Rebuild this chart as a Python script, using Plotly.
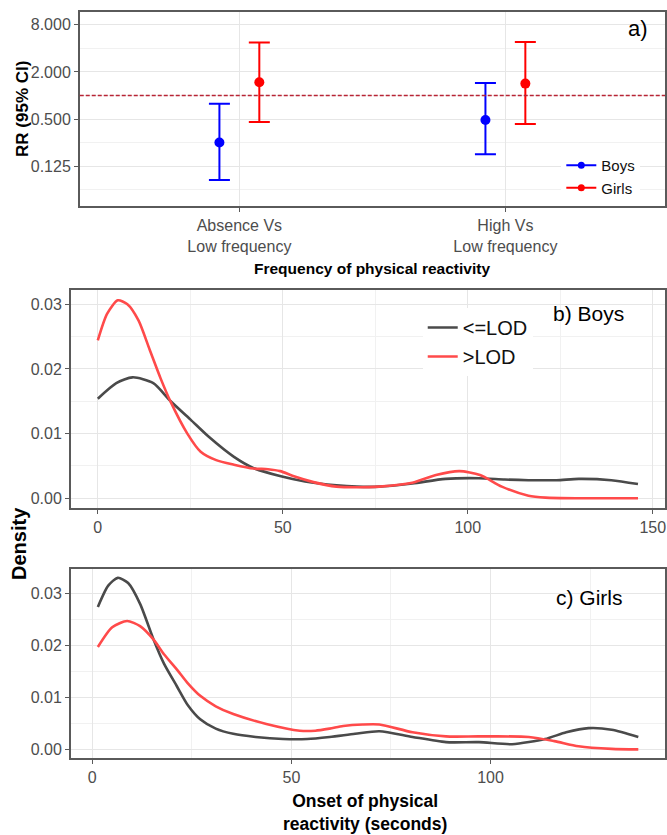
import plotly.graph_objects as go

# ---------------- data ----------------
comparisons = ["Absence Vs<br>Low frequency", "High Vs<br>Low frequency"]
boys_rr = [0.25, 0.485]
boys_lo = [0.083, 0.177]
boys_hi = [0.785, 1.446]
girls_rr = [1.476, 1.418]
girls_lo = [0.457, 0.431]
girls_hi = [4.75, 4.85]
rr_ticks = [0.125, 0.5, 2, 8]
rr_tick_text = ["0.125", "0.500", "2.000", "8.000"]
rr_minor = [0.0625, 0.25, 1, 4]
reference_rr = 1

boys_low_x = [0, 5, 9.4, 15, 19.7, 25, 30, 36.8, 42, 49.5, 56, 64.5, 70, 76, 85, 94, 103, 110, 116.4, 124, 130, 138.8, 146]
boys_low_y = [0.0154, 0.0178, 0.0187, 0.0178, 0.0150, 0.0122, 0.0095, 0.0064, 0.0047, 0.0034, 0.0026, 0.0020, 0.0018, 0.0018, 0.0023, 0.0030, 0.0031, 0.0029, 0.0028, 0.0028, 0.0030, 0.0028, 0.0022]
boys_high_x = [0, 2.5, 5.4, 8, 11, 14, 17, 19.7, 24.2, 27.8, 32, 36.8, 42.1, 46, 49.3, 53, 58.3, 64.5, 70, 76, 85, 91.4, 97.7, 103.3, 109.2, 116.4, 121, 130, 146]
boys_high_y = [0.0244, 0.0285, 0.0306, 0.0300, 0.0275, 0.0230, 0.0185, 0.0149, 0.0100, 0.0072, 0.0059, 0.0052, 0.0046, 0.0045, 0.0042, 0.0034, 0.0025, 0.0018, 0.0017, 0.0018, 0.0024, 0.0036, 0.0042, 0.0036, 0.0018, 0.0004, 0.0001, 0.0000, 0.0000]

girls_low_x = [1.4, 4, 6.4, 9, 12, 15.4, 18, 21.2, 24, 27.1, 31, 35.4, 41, 47.9, 54, 59.6, 66, 72.1, 80.4, 88.8, 97.1, 105.4, 113.7, 119, 124.6, 130.4, 137.1]
girls_low_y = [0.0274, 0.0315, 0.0330, 0.0320, 0.0280, 0.0211, 0.0165, 0.0122, 0.0085, 0.0058, 0.0040, 0.0030, 0.0024, 0.0020, 0.0020, 0.0024, 0.0030, 0.0035, 0.0024, 0.0014, 0.0014, 0.0010, 0.0020, 0.0033, 0.0041, 0.0038, 0.0024]
girls_high_x = [1.4, 5, 8.75, 12, 15.4, 18, 21.2, 24, 27.1, 31, 35.4, 43.7, 52.1, 56, 59.6, 63, 67.9, 72.1, 80.4, 88.8, 97.1, 109.6, 116, 122.1, 130.4, 137.1]
girls_high_y = [0.0197, 0.0235, 0.0247, 0.0237, 0.0211, 0.0183, 0.0154, 0.0127, 0.0103, 0.0083, 0.0068, 0.0049, 0.0036, 0.0036, 0.0040, 0.0045, 0.0048, 0.0048, 0.0033, 0.0025, 0.0025, 0.0024, 0.0016, 0.0006, 0.0001, 0.0000]

density_ticks = [0, 0.01, 0.02, 0.03]
density_minor = [0.005, 0.015, 0.025]
onset_ticks = [0, 50, 100, 150]
onset_minor = [25, 75, 125]

# ---------------- style ----------------
W, H = 667, 835
SANS = "Liberation Sans, Arial, sans-serif"
TICK = "#4d4d4d"
BORDER = "#5a5a5a"
GRID = "#e6e6e6"
MINOR = "#f1f1f1"
BLUE = "#0000ff"
RED = "#ff0000"
DARK = "#4a4a4a"
LRED = "#ff4a4a"
dodge = 0.075

def px_x(p):
    return p / W

def px_y(p):
    return 1 - p / H

fig = go.Figure()

pos = list(range(1, len(comparisons) + 1))
for name, rr, lo, hi, col, off in [
    ("Boys", boys_rr, boys_lo, boys_hi, BLUE, -dodge),
    ("Girls", girls_rr, girls_lo, girls_hi, RED, dodge),
]:
    fig.add_trace(go.Scatter(
        x=[p + off for p in pos], y=rr, mode="markers",
        marker=dict(color=col, size=10),
        error_y=dict(type="data", symmetric=False,
                     array=[h - r for h, r in zip(hi, rr)],
                     arrayminus=[r - l for r, l in zip(rr, lo)],
                     color=col, thickness=2, width=10.5),
        xaxis="x", yaxis="y", showlegend=False, hoverinfo="skip"))
    fig.add_trace(go.Scatter(
        x=[None], y=[None], mode="lines+markers", name=name,
        marker=dict(color=col, size=7), line=dict(color=col, width=2),
        xaxis="x", yaxis="y", legend="legend"))

# density panels
for xs, ys, col, nm, ax, show in [
    (boys_low_x, boys_low_y, DARK, "<=LOD", "2", True),
    (boys_high_x, boys_high_y, LRED, ">LOD", "2", True),
    (girls_low_x, girls_low_y, DARK, "<=LOD", "3", False),
    (girls_high_x, girls_high_y, LRED, ">LOD", "3", False),
]:
    fig.add_trace(go.Scatter(
        x=xs, y=ys, mode="lines", name=nm,
        line=dict(color=col, width=2.6, shape="spline", smoothing=0.7),
        xaxis="x" + ax, yaxis="y" + ax, showlegend=show, legend="legend2",
        hoverinfo="skip"))

tickfont = dict(family=SANS, size=16, color=TICK)

def axis_common(**kw):
    d = dict(showline=True, linecolor=BORDER, linewidth=1.5, mirror=True,
             ticks="outside", ticklen=4, tickcolor=BORDER, tickwidth=1,
             showgrid=True, gridcolor=GRID, gridwidth=1,
             zeroline=False, tickfont=tickfont, ticklabeloverflow="allow")
    d.update(kw)
    return d

fig.update_layout(
    width=W, height=H, margin=dict(l=0, r=0, t=0, b=0),
    paper_bgcolor="white", plot_bgcolor="white",
    xaxis=axis_common(domain=[px_x(80), 1], range=[0.4, 2.6],
                      tickmode="array", tickvals=pos, ticktext=comparisons,
                      anchor="y"),
    yaxis=axis_common(domain=[px_y(206), px_y(12)], type="log",
                      range=[-1.414, 1.068], tickmode="array",
                      tickvals=rr_ticks, ticktext=rr_tick_text, anchor="x",
                      minor=dict(tickmode="array", tickvals=rr_minor,
                                 showgrid=True, gridcolor=MINOR, ticks="")),
    xaxis2=axis_common(domain=[px_x(71), 1], range=[-7.3, 153.3],
                       tickmode="array", tickvals=onset_ticks, anchor="y2",
                       minor=dict(tickmode="array", tickvals=onset_minor,
                                  showgrid=True, gridcolor=MINOR, ticks="")),
    yaxis2=axis_common(domain=[px_y(508), px_y(290)], range=[-0.0015, 0.0322],
                       tickmode="array", tickvals=density_ticks,
                       tickformat=".2f", anchor="x2",
                       minor=dict(tickmode="array", tickvals=density_minor,
                                  showgrid=True, gridcolor=MINOR, ticks="")),
    xaxis3=axis_common(domain=[px_x(71), 1], range=[-5.4, 143.8],
                       tickmode="array", tickvals=onset_ticks, anchor="y3",
                       minor=dict(tickmode="array", tickvals=onset_minor,
                                  showgrid=True, gridcolor=MINOR, ticks="")),
    yaxis3=axis_common(domain=[px_y(758), px_y(569)], range=[-0.00165, 0.0347],
                       tickmode="array", tickvals=density_ticks,
                       tickformat=".2f", anchor="x3",
                       minor=dict(tickmode="array", tickvals=density_minor,
                                  showgrid=True, gridcolor=MINOR, ticks="")),
    legend=dict(x=px_x(563), y=px_y(149), xanchor="left", yanchor="top",
                bgcolor="white", borderwidth=0, itemwidth=30,
                font=dict(family=SANS, size=15, color="#111111"),
                tracegroupgap=0),
    legend2=dict(x=px_x(424), y=px_y(308), xanchor="left", yanchor="top",
                 bgcolor="white", borderwidth=0, itemwidth=30,
                 font=dict(family=SANS, size=20, color="#111111"),
                 tracegroupgap=0),
    showlegend=True,
)

# reference line RR = 1
fig.add_shape(type="line", xref="x domain", yref="y", x0=0, x1=1,
              y0=reference_rr, y1=reference_rr,
              line=dict(color="#b82535", width=1.4, dash="4px,2px"), layer="above")

annots = [
    dict(text="<b>RR (95% CI)</b>", x=px_x(22), y=px_y(109), textangle=-90,
         font=dict(family=SANS, size=17, color="black")),
    dict(text="<b>Frequency of physical reactivity</b>", x=px_x(373), y=px_y(268),
         font=dict(family=SANS, size=15.5, color="black")),
    dict(text="<b>Density</b>", x=px_x(19), y=px_y(543), textangle=-90,
         font=dict(family=SANS, size=20, color="black")),
    dict(text="<b>Onset of physical<br>reactivity (seconds)</b>", x=px_x(366),
         y=px_y(812), font=dict(family=SANS, size=17.5, color="black")),
    dict(text="a)", x=px_x(640), y=px_y(28),
         font=dict(family=SANS, size=22, color="black")),
    dict(text="b) Boys", x=px_x(590), y=px_y(313),
         font=dict(family=SANS, size=21, color="black")),
    dict(text="c) Girls", x=px_x(591), y=px_y(597),
         font=dict(family=SANS, size=21, color="black")),
]
for a in annots:
    fig.add_annotation(xref="paper", yref="paper", showarrow=False,
                       xanchor="center", yanchor="middle", **a)

fig.write_html("out.html")
